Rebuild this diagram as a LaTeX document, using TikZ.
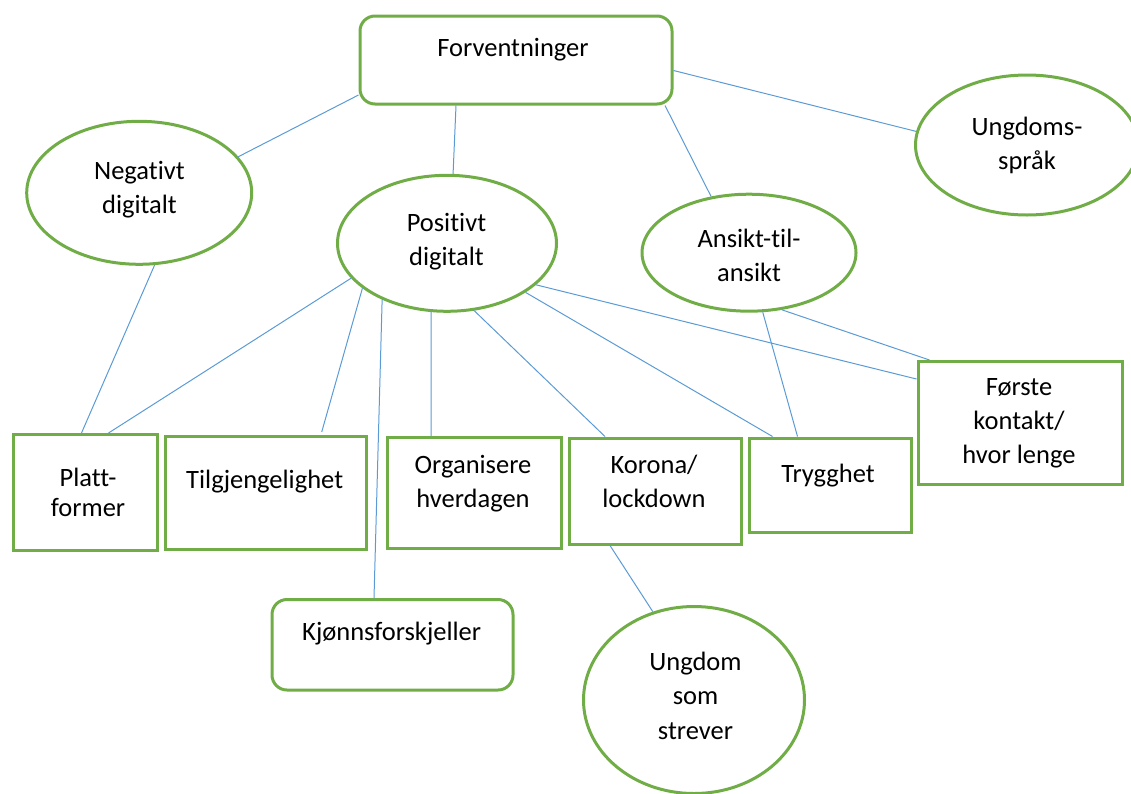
\documentclass[tikz,border=0pt]{standalone}
\usepackage{fontspec}
\setmainfont{Carlito}[Ligatures={NoCommon}]
\usetikzlibrary{shapes.geometric,calc}
\definecolor{boxgreen}{HTML}{70AD47}
\definecolor{lineblue}{HTML}{5B9BD5}
\newcommand\mlines[2][34.5pt]{\vtop{\baselineskip=#1\halign{\hfil##\hfil\cr#2\crcr}}}
\tikzset{
  shp/.style={draw=boxgreen, line width=3pt, inner sep=0pt, fill=white},
  rbox/.style={shp, rectangle, anchor=north west},
  rrbox/.style={shp, rectangle, rounded corners=15pt, anchor=north west},
  ell/.style={shp, ellipse},
  txt/.style={inner sep=0pt, anchor=base, font=\fontsize{26.5}{34.5}\selectfont, text=black},
  conn/.style={draw=lineblue, line width=1pt}
}
\begin{document}
\begin{tikzpicture}[x=1pt,y=-1pt]
\useasboundingbox (0,0) rectangle (1131,793);
\clip (0,0) rectangle (1131,793);
% shapes
\node[rrbox, minimum width=312pt, minimum height=88pt] (fv) at (358.5,14.5) {};
\node[ell, minimum width=225pt, minimum height=143pt] (ng) at (139.2,192.8) {};
\node[ell, minimum width=219pt, minimum height=136pt] (po) at (447,243.3) {};
\node[ell, minimum width=214pt, minimum height=117pt] (an) at (749,252.7) {};
\node[ell, minimum width=223pt, minimum height=140pt] (us) at (1027,145) {};
\node[rbox, minimum width=144.5pt, minimum height=116pt] (pl) at (11.5,433) {};
\node[rbox, minimum width=201pt, minimum height=113pt] (tg) at (164,435) {};
\node[rbox, minimum width=173.5pt, minimum height=111pt] (og) at (386,436) {};
\node[rbox, minimum width=172pt, minimum height=106pt] (ko) at (568,436.5) {};
\node[rbox, minimum width=162.5pt, minimum height=94.5pt] (tr) at (747.5,436.5) {};
\node[rbox, minimum width=204.5pt, minimum height=122.5pt] (fk) at (916.5,360) {};
\node[rrbox, minimum width=241pt, minimum height=90.5pt] (kj) at (270.5,598) {};
\node[ell, minimum width=221pt, minimum height=187pt] (um) at (694,700) {};
% connectors
\draw[conn] ([yshift=-80.5pt]fv.north west) -- (ng.20);
\draw[conn] ([xshift=97.5pt]fv.south west) -- (po.85);
\draw[conn] ([xshift=306.5pt]fv.south west) -- (an.124);
\draw[conn] ([yshift=-56pt]fv.north east) -- (us.173.1);
\draw[conn] (ng.-78) -- ([xshift=70pt]pl.north west);
\draw[conn] (po.-160.7) -- ([xshift=97pt]pl.north west);
\draw[conn] (po.-152.2) -- ([xshift=157.7pt,yshift=3pt]tg.north west);
\draw[conn] (po.-139.1) -- ([xshift=103.5pt]kj.north west);
\draw[conn] (po.-103.4) -- ([xshift=45pt]og.north west);
\draw[conn] (po.-68.7) -- ([xshift=37pt]ko.north west);
\draw[conn] (po.-32.7) -- ([xshift=25pt]tr.north west);
\draw[conn] (po.-25.6) -- ([yshift=-19pt]fk.north west);
\draw[conn] (an.-77.7) -- ([xshift=50pt]tr.north west);
\draw[conn] (an.-60.4) -- ([xshift=13pt]fk.north west);
\draw[conn] ([xshift=42pt]ko.south west) -- (um.115.7);
% texts
\node[txt] (fv-t) at (513,56) {Forventninger};
\node[txt] (ng-t) at (139.5,179) {\mlines{Negativt\cr digitalt}};
\node[txt] (po-t) at (446.5,231) {\mlines{Positivt\cr digitalt}};
\node[txt] (an-t) at (749,247) {\mlines{Ansikt-til-\cr ansikt}};
\node[txt] (us-t) at (1027,135) {\mlines{Ungdoms-\cr språk}};
\node[txt] (pl-t) at (88,486) {\mlines[30.7pt]{Platt-\cr former}};
\node[txt] (tg-t) at (264.7,488) {Tilgjengelighet};
\node[txt] (og-t) at (473,473) {\mlines{Organisere\cr hverdagen}};
\node[txt] (ko-t) at (654,473) {\mlines{Korona/\cr lockdown}};
\node[txt] (tr-t) at (828,482) {Trygghet};
\node[txt] (fk-t) at (1019,395) {\mlines[34pt]{Første\cr kontakt/\cr hvor lenge}};
\node[txt] (kj-t) at (391.7,640) {Kjønnsforskjeller};
\node[txt] (um-t) at (695.5,670) {\mlines{Ungdom\cr som\cr strever}};
\end{tikzpicture}
\end{document}
